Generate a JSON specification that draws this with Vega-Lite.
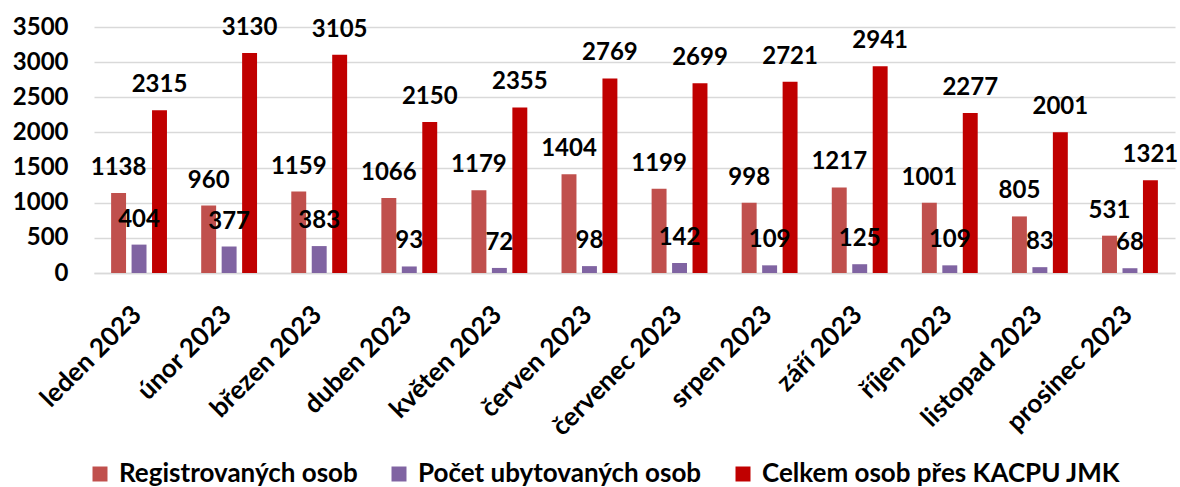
{
  "$schema": "https://vega.github.io/schema/vega-lite/v6.json",
  "autosize": {"type": "none"},
  "width": 1081,
  "height": 246,
  "padding": {"left": 94, "top": 27, "right": 5, "bottom": 214},
  "background": "white",
  "config": {
    "view": {"stroke": null},
    "font": "Lato",
    "axis": {"labelFont": "Lato", "labelFontWeight": "bold", "labelFontSize": 24, "labelColor": "#000000"},
    "legend": {"labelFont": "Lato", "labelFontWeight": "bold", "labelFontSize": 26, "labelColor": "#000000", "labelLimit": 500}
  },
  "data": {
    "values": [
      {"mesic": "leden 2023", "serie": "Registrovaných osob", "hodnota": 1138},
      {"mesic": "leden 2023", "serie": "Počet ubytovaných osob", "hodnota": 404},
      {"mesic": "leden 2023", "serie": "Celkem osob přes KACPU JMK", "hodnota": 2315},
      {"mesic": "únor 2023", "serie": "Registrovaných osob", "hodnota": 960},
      {"mesic": "únor 2023", "serie": "Počet ubytovaných osob", "hodnota": 377},
      {"mesic": "únor 2023", "serie": "Celkem osob přes KACPU JMK", "hodnota": 3130},
      {"mesic": "březen 2023", "serie": "Registrovaných osob", "hodnota": 1159},
      {"mesic": "březen 2023", "serie": "Počet ubytovaných osob", "hodnota": 383},
      {"mesic": "březen 2023", "serie": "Celkem osob přes KACPU JMK", "hodnota": 3105},
      {"mesic": "duben 2023", "serie": "Registrovaných osob", "hodnota": 1066},
      {"mesic": "duben 2023", "serie": "Počet ubytovaných osob", "hodnota": 93},
      {"mesic": "duben 2023", "serie": "Celkem osob přes KACPU JMK", "hodnota": 2150},
      {"mesic": "květen 2023", "serie": "Registrovaných osob", "hodnota": 1179},
      {"mesic": "květen 2023", "serie": "Počet ubytovaných osob", "hodnota": 72},
      {"mesic": "květen 2023", "serie": "Celkem osob přes KACPU JMK", "hodnota": 2355},
      {"mesic": "červen 2023", "serie": "Registrovaných osob", "hodnota": 1404},
      {"mesic": "červen 2023", "serie": "Počet ubytovaných osob", "hodnota": 98},
      {"mesic": "červen 2023", "serie": "Celkem osob přes KACPU JMK", "hodnota": 2769},
      {"mesic": "červenec 2023", "serie": "Registrovaných osob", "hodnota": 1199},
      {"mesic": "červenec 2023", "serie": "Počet ubytovaných osob", "hodnota": 142},
      {"mesic": "červenec 2023", "serie": "Celkem osob přes KACPU JMK", "hodnota": 2699},
      {"mesic": "srpen 2023", "serie": "Registrovaných osob", "hodnota": 998},
      {"mesic": "srpen 2023", "serie": "Počet ubytovaných osob", "hodnota": 109},
      {"mesic": "srpen 2023", "serie": "Celkem osob přes KACPU JMK", "hodnota": 2721},
      {"mesic": "září 2023", "serie": "Registrovaných osob", "hodnota": 1217},
      {"mesic": "září 2023", "serie": "Počet ubytovaných osob", "hodnota": 125},
      {"mesic": "září 2023", "serie": "Celkem osob přes KACPU JMK", "hodnota": 2941},
      {"mesic": "říjen 2023", "serie": "Registrovaných osob", "hodnota": 1001},
      {"mesic": "říjen 2023", "serie": "Počet ubytovaných osob", "hodnota": 109},
      {"mesic": "říjen 2023", "serie": "Celkem osob přes KACPU JMK", "hodnota": 2277},
      {"mesic": "listopad 2023", "serie": "Registrovaných osob", "hodnota": 805},
      {"mesic": "listopad 2023", "serie": "Počet ubytovaných osob", "hodnota": 83},
      {"mesic": "listopad 2023", "serie": "Celkem osob přes KACPU JMK", "hodnota": 2001},
      {"mesic": "prosinec 2023", "serie": "Registrovaných osob", "hodnota": 531},
      {"mesic": "prosinec 2023", "serie": "Počet ubytovaných osob", "hodnota": 68},
      {"mesic": "prosinec 2023", "serie": "Celkem osob přes KACPU JMK", "hodnota": 1321}
    ]
  },
  "encoding": {
    "x": {
      "field": "mesic", "type": "nominal", "sort": null, "title": null,
      "scale": {"paddingInner": 0.38, "paddingOuter": 0.19},
      "axis": {"labelAngle": -45, "labelAlign": "right", "labelBaseline": "top", "labelFontSize": 26, "ticks": false, "domainColor": "#d9d9d9", "domainWidth": 1.5, "labelPadding": 28, "labelOffset": -11, "labelLimit": 300}
    },
    "xOffset": {
      "field": "serie", "type": "nominal", "sort": null,
      "scale": {"paddingInner": 0.27, "paddingOuter": 0}
    },
    "y": {
      "field": "hodnota", "type": "quantitative", "title": null,
      "scale": {"domain": [0, 3500], "nice": false},
      "axis": {"values": [0, 500, 1000, 1500, 2000, 2500, 3000, 3500], "format": "d", "ticks": false, "domain": false, "gridColor": "#d9d9d9", "gridWidth": 1.5, "labelPadding": 26}
    }
  },
  "layer": [
    {
      "mark": {"type": "bar"},
      "encoding": {
        "color": {
          "field": "serie", "type": "nominal", "sort": null, "title": null,
          "scale": {"domain": ["Registrovaných osob", "Počet ubytovaných osob", "Celkem osob přes KACPU JMK"], "range": ["#C0504D", "#8064A2", "#C00000"]},
          "legend": {"orient": "none", "legendX": -7, "legendY": 434, "direction": "horizontal", "symbolType": "square", "symbolSize": 225, "symbolStrokeWidth": 0, "columnPadding": 28, "labelOffset": 6}
        }
      }
    },
    {
      "mark": {"type": "text", "fontWeight": "bold", "fontSize": 24, "font": "Lato", "color": "#000000", "baseline": "alphabetic", "dy": -18},
      "encoding": {"text": {"field": "hodnota", "type": "quantitative"}}
    }
  ]
}
